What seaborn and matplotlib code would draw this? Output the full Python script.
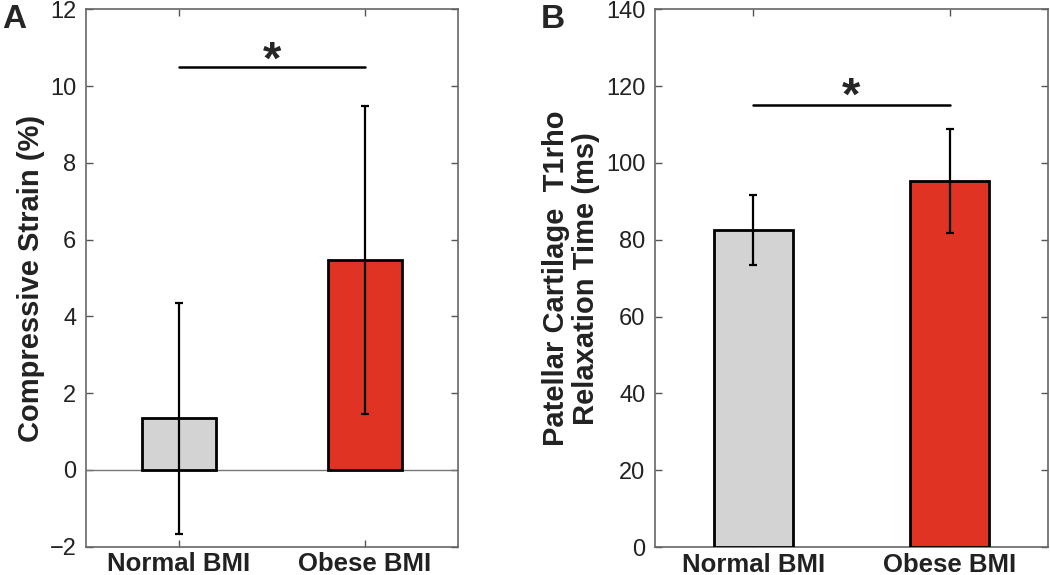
import numpy as np
import pandas as pd
import matplotlib
matplotlib.use("Agg")
import matplotlib.pyplot as plt
import seaborn as sns

sns.set_style("ticks")
plt.rcParams["font.family"] = ["Liberation Sans", "DejaVu Sans"]

# data
groups = ["Normal BMI", "Obese BMI"]
bar_colors = ["#D3D3D3", "#E03323"]

strain_mean = [1.35, 5.46]
strain_lo = [-1.68, 1.45]
strain_hi = [4.35, 9.47]

t1rho_mean = [82.6, 95.3]
t1rho_lo = [73.5, 81.8]
t1rho_hi = [91.7, 108.8]

sig_strain = 10.5
sig_t1rho = 115.2

df_a = pd.DataFrame({"group": groups, "value": strain_mean})
df_b = pd.DataFrame({"group": groups, "value": t1rho_mean})

fig = plt.figure(figsize=(10.5, 5.75), dpi=100)
ax1 = fig.add_axes([86 / 1050, 28.3 / 575, 372 / 1050, 537.4 / 575])
ax2 = fig.add_axes([655 / 1050, 28 / 575, 393 / 1050, 537.7 / 575])


def draw_panel(ax, df, lo, hi, sig_y, ylim, yticks, ylabel):
    sns.barplot(data=df, x="group", y="value", hue="group", palette=bar_colors,
                saturation=1, width=0.4, edgecolor="black", linewidth=2,
                legend=False, ax=ax, errorbar=None, zorder=3)
    m = df["value"].values
    yerr = [m - np.array(lo), np.array(hi) - m]
    ax.errorbar(np.arange(len(m)), m, yerr=yerr, fmt="none", ecolor="black",
                elinewidth=1.6, capsize=3, capthick=1.6, zorder=4)
    ax.plot([0, 1], [sig_y, sig_y], color="black", lw=1.8, zorder=4)
    ax.set_xlim(-0.5, 1.5)
    ax.set_ylim(*ylim)
    ax.set_yticks(yticks)
    ax.set_xlabel("")
    ax.set_ylabel(ylabel, fontsize=21, fontweight="bold", color="#222222",
                  linespacing=1.1)
    ax.tick_params(direction="in", length=5, width=1, color="#555555",
                   top=True, right=True)
    ax.tick_params(axis="y", labelsize=17, pad=7)
    ax.tick_params(axis="x", labelsize=18.5, pad=4)
    for lab in ax.get_xticklabels():
        lab.set_fontweight("bold")
        lab.set_color("#222222")
    for lab in ax.get_yticklabels():
        lab.set_color("#222222")
    for s in ax.spines.values():
        s.set_visible(True)
        s.set_color("#666666")
        s.set_linewidth(1.2)


draw_panel(ax1, df_a, strain_lo, strain_hi, sig_strain, (-2, 12),
           np.arange(-2, 13, 2), "Compressive Strain (%)")
ax1.axhline(0, color="#777777", lw=1, zorder=2)
ax1.text(0.5, sig_strain - 0.19, "*", ha="center", va="baseline",
         fontsize=34, fontweight="bold")
ax1.yaxis.set_label_coords(-0.11, 0.5)

draw_panel(ax2, df_b, t1rho_lo, t1rho_hi, sig_t1rho, (0, 140),
           np.arange(0, 141, 20), "Patellar Cartilage  T1rho\nRelaxation Time (ms)")
ax2.text(0.5, sig_t1rho - 1.4, "*", ha="center", va="baseline",
         fontsize=34, fontweight="bold")
ax2.yaxis.set_label_coords(-0.14, 0.5)

fig.text(2 / 1050, 1 - 20 / 575, "A", fontsize=24, fontweight="bold", va="center")
fig.text(541 / 1050, 1 - 20 / 575, "B", fontsize=24, fontweight="bold", va="center")

fig.savefig("out.png", dpi=100)
